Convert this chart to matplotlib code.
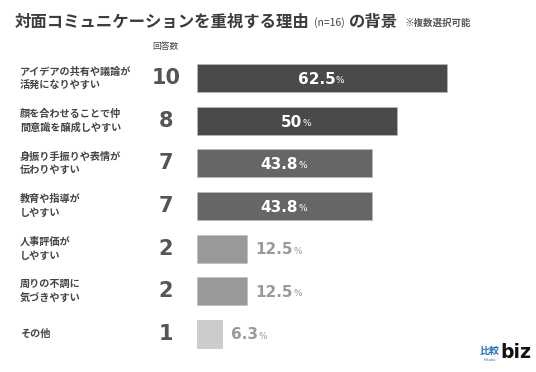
import matplotlib
matplotlib.use("Agg")
import matplotlib.pyplot as plt

plt.rcParams['font.family'] = ['Noto Sans CJK JP', 'DejaVu Sans']

# data
labels = [
    "アイデアの共有や議論が\n活発になりやすい",
    "顔を合わせることで仲\n間意識を醸成しやすい",
    "身振り手振りや表情が\n伝わりやすい",
    "教育や指導が\nしやすい",
    "人事評価が\nしやすい",
    "周りの不調に\n気づきやすい",
    "その他",
]
counts = [10, 8, 7, 7, 2, 2, 1]
percents = [62.5, 50, 43.8, 43.8, 12.5, 12.5, 6.3]
pct_labels = ["62.5", "50", "43.8", "43.8", "12.5", "12.5", "6.3"]
bar_colors = ["#4a4a4a", "#4a4a4a", "#666666", "#666666", "#999999", "#999999", "#cccccc"]
inside = [True, True, True, True, False, False, False]

W, H = 536, 372
fig = plt.figure(figsize=(W / 100, H / 100), dpi=100)
fig.patch.set_facecolor("white")

# full-figure overlay for title / logo text
bg = fig.add_axes([0, 0, 1, 1])
bg.set_xlim(0, W)
bg.set_ylim(H, 0)
bg.axis("off")

# bar axes: left edge at x=197px, 4px per percent
x0, top, bottom = 197, 57, 355
ax = fig.add_axes([x0 / W, 1 - bottom / H, (W - x0) / W, (bottom - top) / H])
ax.set_xlim(0, (W - x0) / 4)
ax.set_ylim(len(labels) - 0.5, -0.5)
ax.axis("off")

ypos = list(range(len(labels)))
ax.barh(ypos, percents, height=0.66, color=bar_colors, edgecolor="#bbbbbb", linewidth=0.4)

def px(x):
    return (x - x0) / 4

for i in ypos:
    ax.text(px(20), i, labels[i], ha="left", va="center", fontsize=7.3,
            fontweight="bold", color="#444444", linespacing=1.45, clip_on=False)
    ax.text(px(166), i, str(counts[i]), ha="center", va="center", fontsize=15,
            fontweight="bold", color="#555555", family=["DejaVu Sans"], clip_on=False)
    if inside[i]:
        xc = percents[i] / 2 - 1.3
        t = ax.text(xc, i + 0.03, pct_labels[i], ha="center", va="center", fontsize=11,
                    fontweight="bold", color="white", family=["DejaVu Sans"])
        col = "white"
    else:
        t = ax.text(percents[i] + 2.2, i + 0.03, pct_labels[i], ha="left", va="center",
                    fontsize=11, fontweight="bold", color="#9a9a9a", family=["DejaVu Sans"])
        col = "#9a9a9a"
    ax.annotate("%", xy=(1, 0.12), xycoords=t, xytext=(0.2, 0), textcoords="offset points",
                ha="left", va="bottom", fontsize=6.5, color=col, family=["DejaVu Sans"])

# title pieces
t1 = bg.text(15, 22, "対面コミュニケーションを重視する理由", ha="left", va="center",
             fontsize=11.8, fontweight="bold", color="#3c3c3c")
t2 = bg.annotate("(n=16)", xy=(1, 0.5), xycoords=t1, xytext=(3, -0.5), textcoords="offset points",
                 ha="left", va="center", fontsize=7.5, color="#444444")
t3 = bg.annotate("の背景", xy=(1, 0.5), xycoords=t2, xytext=(3, 0.5), textcoords="offset points",
                 ha="left", va="center", fontsize=11.8, fontweight="bold", color="#3c3c3c")
bg.annotate("※複数選択可能", xy=(1, 0.5), xycoords=t3, xytext=(5, -0.5), textcoords="offset points",
            ha="left", va="center", fontsize=6.8, fontweight="bold", color="#555555")

bg.text(165, 47, "回答数", ha="center", va="center", fontsize=6.3, color="#444444")

# logo
bg.text(490, 351, "比較", ha="center", va="center", fontsize=7.2,
        fontweight="bold", color="#1f6fc5")
bg.text(490, 360, "hikaku", ha="center", va="center", fontsize=2.8, color="#1f6fc5")
bg.text(500, 353, "biz", ha="left", va="center", fontsize=13.5,
        fontweight="bold", color="#111111", family=["DejaVu Sans"])

fig.savefig("out.png", dpi=100, facecolor="white")
